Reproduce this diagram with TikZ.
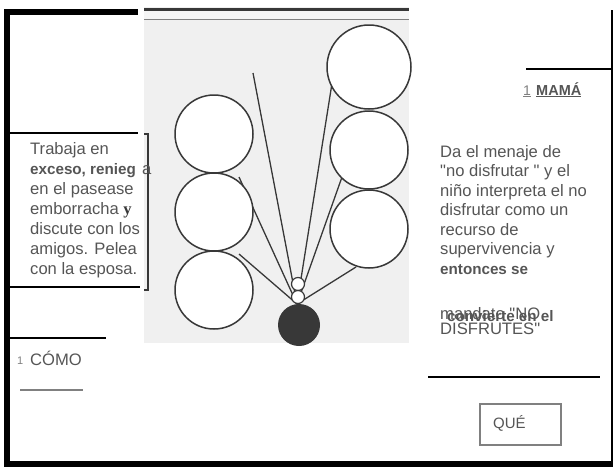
\documentclass[tikz,border=0pt]{standalone}
\usepackage{fontspec}
\setmainfont{Liberation Sans}
\newfontfamily\serifbold{Liberation Serif}
\definecolor{ink}{HTML}{555555}
\definecolor{pen}{HTML}{383838}
\definecolor{photo}{HTML}{F0F0F0}

\begin{document}
\begin{tikzpicture}[x=1pt, y=-1pt,
    ring/.style={circle, draw=pen, line width=1.5pt, fill=white, minimum size=78pt, inner sep=0pt},
    bead/.style={circle, draw=pen, line width=1.2pt, fill=white, minimum size=13pt, inner sep=0pt},
    ray/.style={draw=pen, line width=1.3pt},
    rule/.style={line width=2pt},
    txt/.style={anchor=base west, inner sep=0pt, text=ink, font=\fontsize{16.6}{19}\selectfont},
    boldtxt/.style={txt, font=\fontsize{15.2}{18}\selectfont\bfseries}]
  \useasboundingbox (0,0) rectangle (613,467);

  % frame
  \fill (4,9) rectangle (138,15);
  \fill (4,9) rectangle (10,467);
  \fill (4,461) rectangle (613,467);
  \draw[line width=2pt] (611.5,10) -- (611.5,467);
  \draw[rule] (10,133) -- (138,133);
  \draw[rule] (10,287) -- (140,287);
  \draw[rule] (10,338) -- (106,338);
  \draw[line width=2pt, gray] (20,390) -- (83,390);
  \draw[rule] (526,69) -- (613,69);
  \draw[rule] (428,377) -- (600,377);

  % photo
  \fill[photo] (144,7) rectangle (409,343);
  \fill[white!96!black] (144,11) rectangle (409,19);
  \draw[line width=3pt, pen] (144,9) -- (409,9);
  \draw[line width=1.5pt, gray] (144,19.5) -- (409,19.5);
  \draw[pen, line width=1.2pt] (144,134) -- (148,134) -- (148,290) -- (144,290);

  \coordinate (apex) at (297,304);
  \coordinate (e1) at (253,73);
  \coordinate (e2) at (239,177);
  \coordinate (e3) at (239,254);
  \coordinate (e4) at (333,77);
  \coordinate (e5) at (342,177);
  \coordinate (e6) at (356,267);
  \foreach \e in {e1,e2,e3,e4,e5,e6}
    \draw[ray] (apex) -- (\e);

  \node[ring] (l1) at (214,134) {};
  \node[ring] (l2) at (214,212) {};
  \node[ring] (l3) at (214,290) {};
  \node[ring, minimum size=84pt] (r1) at (369,67) {};
  \node[ring] (r2) at (369,150) {};
  \node[ring] (r3) at (369,229) {};

  \node[bead] (b1) at (298,284) {};
  \node[bead] (b2) at (298,297) {};
  \node[circle, fill=pen, minimum size=42pt, inner sep=0pt] (ball) at (299,325) {};

  % left text
  \node[txt] (w1) at (30,154) {Trabaja en};
  \node[boldtxt] (w2) at (30,174) {exceso, renieg};
  \node[txt] (w2a) at (142,174) {a};
  \node[txt] (w3) at (30,194) {en el pasease};
  \node[txt] (w4) at (30,214) {emborracha {\serifbold\bfseries\color{pen}y}};
  \node[txt] (w5) at (30,234) {discute con los};
  \node[txt] (w6) at (30,254) {amigos. Pelea};
  \node[txt] (w7) at (30,274) {con la esposa.};

  \node[txt, font=\fontsize{11}{13}\selectfont, text=gray] (como1) at (17,364) {1};
  \node[txt] (como) at (30,365) {CÓMO};

  % right text
  \node[txt, font=\fontsize{14}{15}\selectfont, text=gray] (mama1) at (523,95) {\underline{1}};
  \node[txt, font=\fontsize{14.5}{15}\selectfont\bfseries] (mama) at (536,95) {\underline{MAMÁ}};

  \node[txt] (d1) at (440,157) {Da el menaje de};
  \node[txt] (d2) at (440,176.5) {\textquotedbl no disfrutar \textquotedbl\ y el};
  \node[txt] (d3) at (440,196) {niño interpreta el no};
  \node[txt] (d4) at (440,215.5) {disfrutar como un};
  \node[txt] (d5) at (440,235) {recurso de};
  \node[txt] (d6) at (440,254.5) {supervivencia y};
  \node[boldtxt] (d7) at (440,274) {entonces se};
  \node[txt] (d8) at (440,319) {mandato \textquotedbl NO};
  \node[boldtxt] (d8b) at (447,321) {convierte en el};
  \node[txt] (d9) at (440,334) {DISFRUTES\textquotedbl};

  \node[draw=gray, line width=1.2pt, minimum width=81pt, minimum height=41pt, inner sep=0pt] (que) at (520.5,424.5) {};
  \node[txt, font=\fontsize{15}{16}\selectfont] (quelabel) at (493,428) {QUÉ};
\end{tikzpicture}
\end{document}
